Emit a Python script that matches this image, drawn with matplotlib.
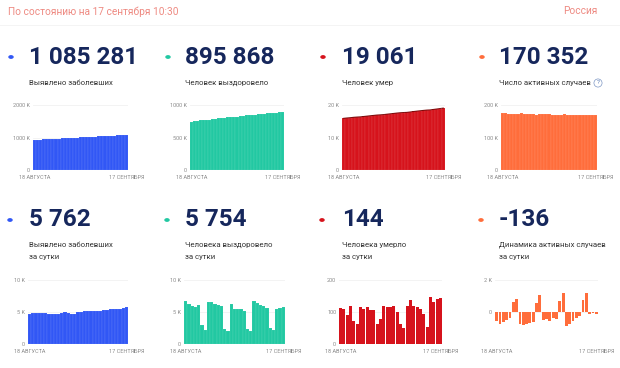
import matplotlib
matplotlib.use("Agg")
import matplotlib.pyplot as plt
from matplotlib.patches import Circle

plt.rcParams['font.family'] = ['Roboto', 'DejaVu Sans']

# ---------------- data ----------------
header_text = "По состоянию на 17 сентября 10:30"
region_text = "Россия"
x_tick_labels = ["18 АВГУСТА", "17 СЕНТЯБРЯ"]

top_numbers = ["1 085 281", "895 868", "19 061", "170 352"]
top_titles = ["Выявлено заболевших", "Человек выздоровело", "Человек умер", "Число активных случаев"]
bottom_numbers = ["5 762", "5 754", "144", "-136"]
bottom_titles = [["Выявлено заболевших", "за сутки"],
                 ["Человека выздоровело", "за сутки"],
                 ["Человека умерло", "за сутки"],
                 ["Динамика активных случаев", "за сутки"]]

confirmed_total = [927745, 932800, 937900, 943000, 948100, 953200, 958200, 963100, 968000, 972900,
                   977900, 983000, 988100, 993100, 998000, 1003100, 1008200, 1013400, 1018700, 1023900,
                   1029100, 1034300, 1039500, 1044900, 1050300, 1055700, 1061200, 1066700, 1072200,
                   1079500, 1085281]
recovered_total = [746000, 752300, 758300, 764100, 770200, 773100, 775300, 781900, 788400, 794700,
                   800800, 806800, 809200, 811300, 817500, 822900, 828400, 833900, 839100, 841400,
                   843400, 850100, 856500, 862600, 868500, 874200, 876700, 878900, 884400, 890100,
                   895868]
deaths_total = [15911, 16019, 16109, 16229, 16300, 16361, 16476, 16586, 16703, 16810, 16917, 16981,
                17060, 17180, 17295, 17410, 17528, 17628, 17692, 17743, 17863, 18001, 18121, 18238,
                18348, 18443, 18497, 18645, 18776, 18917, 19061]
active_total = [174688, 173948, 173328, 172848, 172468, 173088, 173928, 173208, 172408, 171648,
                170948, 170308, 170888, 171938, 171458, 171038, 170488, 170108, 169688, 170388,
                171548, 170668, 169948, 169388, 169008, 168768, 169488, 170648, 170548, 170488,
                170352]

confirmed_daily = [4748, 4790, 4767, 4870, 4921, 4852, 4676, 4696, 4711, 4676, 4829, 4980, 4897,
                   4729, 4729, 4952, 4995, 5110, 5205, 5195, 5185, 5099, 5172, 5363, 5310, 5406,
                   5449, 5509, 5529, 5670, 5762]
recovered_daily = [6700, 6300, 6000, 5800, 6100, 2900, 2200, 6600, 6500, 6300, 6100, 6000, 2400,
                   2100, 6200, 5400, 5500, 5500, 5200, 2300, 2000, 6700, 6400, 6100, 5900, 5700,
                   2500, 2200, 5500, 5700, 5754]
deaths_daily = [112, 108, 90, 120, 71, 61, 115, 110, 117, 107, 107, 64, 79, 120, 115, 115, 118, 100,
                64, 51, 120, 138, 120, 117, 110, 95, 54, 148, 131, 141, 144]
active_daily = [-560, -740, -620, -480, -380, 620, 840, -720, -800, -760, -700, -640, 580, 1050,
                -480, -420, -550, -380, -420, 700, 1160, -880, -720, -560, -380, -240, 720, 1160,
                -100, -60, -136]

top_ticks = [[0, 1000000, 2000000], [0, 500000, 1000000], [0, 10000, 20000], [0, 100000, 200000]]
top_tick_labels = [["0", "1000 K", "2000 K"], ["0", "500 K", "1000 K"], ["0", "10 K", "20 K"],
                   ["0", "100 K", "200 K"]]
bottom_ticks = [[0, 5000, 10000], [0, 5000, 10000], [0, 100, 200], [0, 2000]]
bottom_tick_labels = [["0", "5 K", "10 K"], ["0", "5 K", "10 K"], ["0", "100", "200"], ["0", "2 K"]]

top_series = [confirmed_total, recovered_total, deaths_total, active_total]
bottom_series = [confirmed_daily, recovered_daily, deaths_daily, active_daily]

colors = ["#3157f5", "#22c8a2", "#d6131c", "#ff6d3b"]
edge_dark = [None, None, "#7a0a0a", None]
bottom_widths = [1.0, 1.0, 0.9, 0.85]
NAVY = "#16275c"

# ---------------- layout ----------------
W, H = 620, 368
fig = plt.figure(figsize=(W / 100, H / 100), dpi=100)
fig.patch.set_facecolor("white")


def fx(px):
    return px / W


def fy(py):
    return 1 - py / H


fig.text(fx(8), fy(11.5), header_text, fontsize=7.3, color="#ee8a82", va="center", ha="left")
fig.text(fx(563), fy(11.5), region_text, fontsize=7.3, color="#ee8a82", va="center", ha="left")
fig.add_artist(plt.Line2D([0, 1], [fy(25), fy(25)], color="#f2f2f2", lw=0.6))

dot_x = [11, 168, 323, 482]
num_x = [29, 185, 342, 499]

top_ax = [(33, 128), (190, 284), (342, 445), (501, 597)]
bot_ax = [(28, 128), (184, 285), (339, 442), (495, 598)]
top_y = (105, 170)
bot_y = (280, 344)

top_ylim = [(0, 2000000), (0, 1000000), (0, 20000), (0, 200000)]
bot_ylim = [(0, 10000), (0, 10000), (0, 200), (-2000, 2000)]


def style_axis(ax, ticks, labels, ylim, n):
    ax.set_ylim(*ylim)
    ax.set_xlim(-0.5, n - 0.5)
    ax.set_yticks(ticks)
    ax.set_yticklabels(labels)
    ax.set_xticks([0, n - 1])
    ax.set_xticklabels(x_tick_labels)
    ax.tick_params(axis="both", length=0, labelsize=4, labelcolor="#8a8a8a", pad=2)
    ax.tick_params(axis="x", pad=3.5)
    for s in ax.spines.values():
        s.set_visible(False)
    ax.grid(axis="y", color="#eeeeee", lw=0.5)
    ax.set_axisbelow(True)


for i in range(4):
    # top card
    fig.add_artist(Circle((fx(dot_x[i]), fy(57)), radius=2.0 / W, color=colors[i],
                          transform=fig.transFigure))
    fig.text(fx(num_x[i]), fy(57), top_numbers[i], fontsize=17.5, fontweight="bold",
             color=NAVY, va="center", ha="left")
    fig.text(fx(num_x[i]), fy(83), top_titles[i], fontsize=5.6, color="#333333",
             va="center", ha="left")
    x0, x1 = top_ax[i]
    ax = fig.add_axes([fx(x0), fy(top_y[1]), (x1 - x0) / W, (top_y[1] - top_y[0]) / H])
    vals = top_series[i]
    xs = list(range(len(vals)))
    ax.bar(xs, vals, width=1.0, color=colors[i], edgecolor=(1, 1, 1, 0.18), linewidth=0.3)
    if edge_dark[i]:
        ax.plot(xs, vals, color=edge_dark[i], lw=0.7)
    style_axis(ax, top_ticks[i], top_tick_labels[i], top_ylim[i], len(vals))

    # bottom card
    fig.add_artist(Circle((fx(dot_x[i] - 1), fy(220)), radius=2.0 / W, color=colors[i],
                          transform=fig.transFigure))
    fig.text(fx(num_x[i]), fy(220), bottom_numbers[i], fontsize=17.5, fontweight="bold",
             color=NAVY, va="center", ha="left")
    fig.text(fx(num_x[i]), fy(245), bottom_titles[i][0], fontsize=5.6, color="#333333",
             va="center", ha="left")
    fig.text(fx(num_x[i]), fy(257), bottom_titles[i][1], fontsize=5.6, color="#333333",
             va="center", ha="left")
    x0, x1 = bot_ax[i]
    ax2 = fig.add_axes([fx(x0), fy(bot_y[1]), (x1 - x0) / W, (bot_y[1] - bot_y[0]) / H])
    vals = bottom_series[i]
    xs = list(range(len(vals)))
    if bottom_widths[i] >= 1.0:
        ax2.bar(xs, vals, width=1.0, color=colors[i], edgecolor=(1, 1, 1, 0.18), linewidth=0.3)
    else:
        ax2.bar(xs, vals, width=bottom_widths[i], color=colors[i], linewidth=0)
    style_axis(ax2, bottom_ticks[i], bottom_tick_labels[i], bot_ylim[i], len(vals))

# help icon next to active cases title
fig.text(fx(598), fy(83), "?", fontsize=4.5, color="#5a7bb5", ha="center", va="center",
         bbox=dict(boxstyle="circle,pad=0.25", fc="white", ec="#7d97c4", lw=0.5))

fig.savefig("out.png", dpi=100, facecolor="white")
